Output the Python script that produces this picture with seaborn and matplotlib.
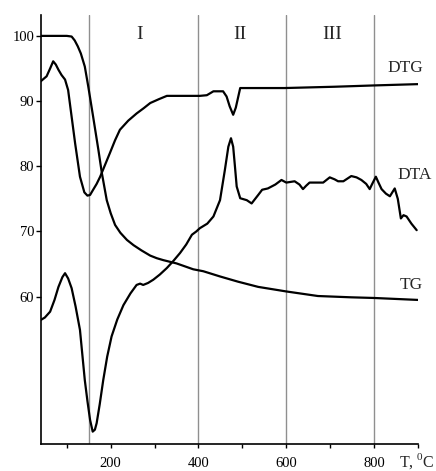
import matplotlib
matplotlib.use("Agg")
import matplotlib.pyplot as plt
import seaborn as sns
import pandas as pd

# ---- data ----
tg_t = [40, 100, 111, 118, 125, 132, 141, 149, 160, 172, 180, 191, 200, 210, 222, 237, 252, 270, 290, 305, 320, 350, 388, 411, 449, 490, 536, 600, 672, 748, 800, 900]
tg_v = [100, 100, 99.9, 99.3, 98.4, 97.3, 95.3, 92.2, 87.6, 82.5, 78.9, 74.8, 72.8, 71.0, 69.8, 68.7, 67.9, 67.1, 66.3, 65.9, 65.6, 65.1, 64.2, 63.9, 63.1, 62.3, 61.5, 60.8, 60.1, 59.9, 59.8, 59.5]

dtg_t = [40, 54, 62, 69, 75, 81, 88, 96, 103, 111, 119, 130, 140, 147, 153, 160, 168, 176, 187, 198, 210, 221, 240, 259, 275, 290, 310, 328, 360, 403, 419, 434, 456, 464, 471, 479, 485, 489, 495, 505, 596, 710, 800, 900]
dtg_v = [93.0, 93.8, 95.0, 96.1, 95.6, 94.8, 94.0, 93.3, 91.7, 87.6, 83.5, 78.4, 76.0, 75.5, 75.6, 76.4, 77.3, 78.4, 80.2, 82.0, 84.0, 85.6, 87.0, 88.1, 88.9, 89.7, 90.3, 90.8, 90.8, 90.8, 90.9, 91.5, 91.5, 90.7, 89.2, 87.9, 89.0, 90.2, 92.0, 92.0, 92.0, 92.2, 92.4, 92.6]

dta_t = [40, 50, 62, 72, 81, 90, 96, 103, 111, 120, 130, 141, 147, 153, 159, 164, 168, 175, 183, 192, 202, 215, 229, 245, 259, 267, 274, 285, 297, 312, 328, 343, 358, 372, 385, 395, 403, 420, 434, 449, 460, 468, 474, 479, 483, 487, 495, 510, 521, 536, 545, 558, 575, 589, 600, 619, 630, 638, 645, 653, 670, 684, 699, 710, 718, 730, 748, 760, 771, 782, 790, 795, 804, 810, 817, 827, 836, 847, 854, 861, 867, 874, 885, 897]
dta_v = [56.4, 56.8, 57.7, 59.5, 61.5, 63.0, 63.6, 62.8, 61.3, 58.5, 54.9, 47.2, 44.0, 41.1, 39.3, 39.6, 40.6, 43.5, 47.2, 50.8, 53.9, 56.5, 58.7, 60.5, 61.8, 62.0, 61.8, 62.1, 62.6, 63.4, 64.4, 65.5, 66.7, 68.0, 69.5, 70.0, 70.5, 71.2, 72.3, 74.8, 79.4, 83.0, 84.3, 83.0, 80.0, 76.9, 75.1, 74.8, 74.3, 75.6, 76.4, 76.6, 77.2, 77.9, 77.5, 77.7, 77.2, 76.5, 77.0, 77.5, 77.5, 77.5, 78.3, 78.0, 77.7, 77.7, 78.5, 78.3, 77.9, 77.3, 76.5, 77.2, 78.4, 77.5, 76.5, 75.8, 75.4, 76.6, 75.0, 72.0, 72.5, 72.3, 71.2, 70.2]

stage_lines = [150, 400, 600, 800]
stage_labels = ["I", "II", "III"]
stage_label_x = [266, 494, 704]

curve_labels = ["DTG", "DTA", "TG"]
curve_label_x = [872, 892, 885]
curve_label_y = [95.1, 78.7, 61.8]

x_major = [200, 400, 600, 800]
x_minor = [100, 300, 500, 700, 900]
y_major = [60, 70, 80, 90, 100]

# ---- style ----
sns.set_style("ticks")
plt.rcParams["font.family"] = ["Liberation Serif", "DejaVu Serif"]
plt.rcParams["mathtext.fontset"] = "custom"
plt.rcParams["mathtext.rm"] = "Liberation Serif"

fig = plt.figure(figsize=(4.36, 4.71), dpi=100)
ax = fig.add_axes([0.0933, 0.0573, 0.8654, 0.9108])

for xv in stage_lines:
    ax.axvline(xv, color="#8f8f8f", lw=1.0, zorder=1)

for t, v in [(tg_t, tg_v), (dtg_t, dtg_v), (dta_t, dta_v)]:
    df = pd.DataFrame({"T": t, "V": v})
    sns.lineplot(data=df, x="T", y="V", ax=ax, color="black", lw=1.6,
                 estimator=None, sort=False, zorder=3)

ax.set_xlim(40.5, 900)
ax.set_ylim(37.4, 103.2)
ax.set_xlabel("")
ax.set_ylabel("")

ax.set_xticks(x_major)
ax.set_xticklabels([str(v) for v in x_major])
ax.set_xticks(x_minor, minor=True)
ax.set_yticks(y_major)
ax.set_yticklabels([str(v) for v in y_major])

for s in ["top", "right"]:
    ax.spines[s].set_visible(False)
for s in ["left", "bottom"]:
    ax.spines[s].set_linewidth(1.2)
    ax.spines[s].set_color("black")

ax.tick_params(axis="x", which="both", direction="out", length=3, width=1.0,
               labelsize=10.5, pad=6.5, colors="black")
ax.tick_params(axis="y", which="major", direction="out", length=3.5, width=1.0,
               labelsize=10.5, pad=1.2, colors="black")

for lab, xv in zip(stage_labels, stage_label_x):
    ax.text(xv, 100.2, lab, ha="center", va="center", fontsize=14)

for lab, xv, yv in zip(curve_labels, curve_label_x, curve_label_y):
    ax.text(xv, yv, lab, ha="center", va="center", fontsize=12.5, clip_on=False)

fig.text(434.5 / 436, 1 - 466.5 / 471, r"T, $^{\mathregular{0}}$C",
         ha="right", va="baseline", fontsize=11.5)

fig.savefig("out.png", dpi=100)
